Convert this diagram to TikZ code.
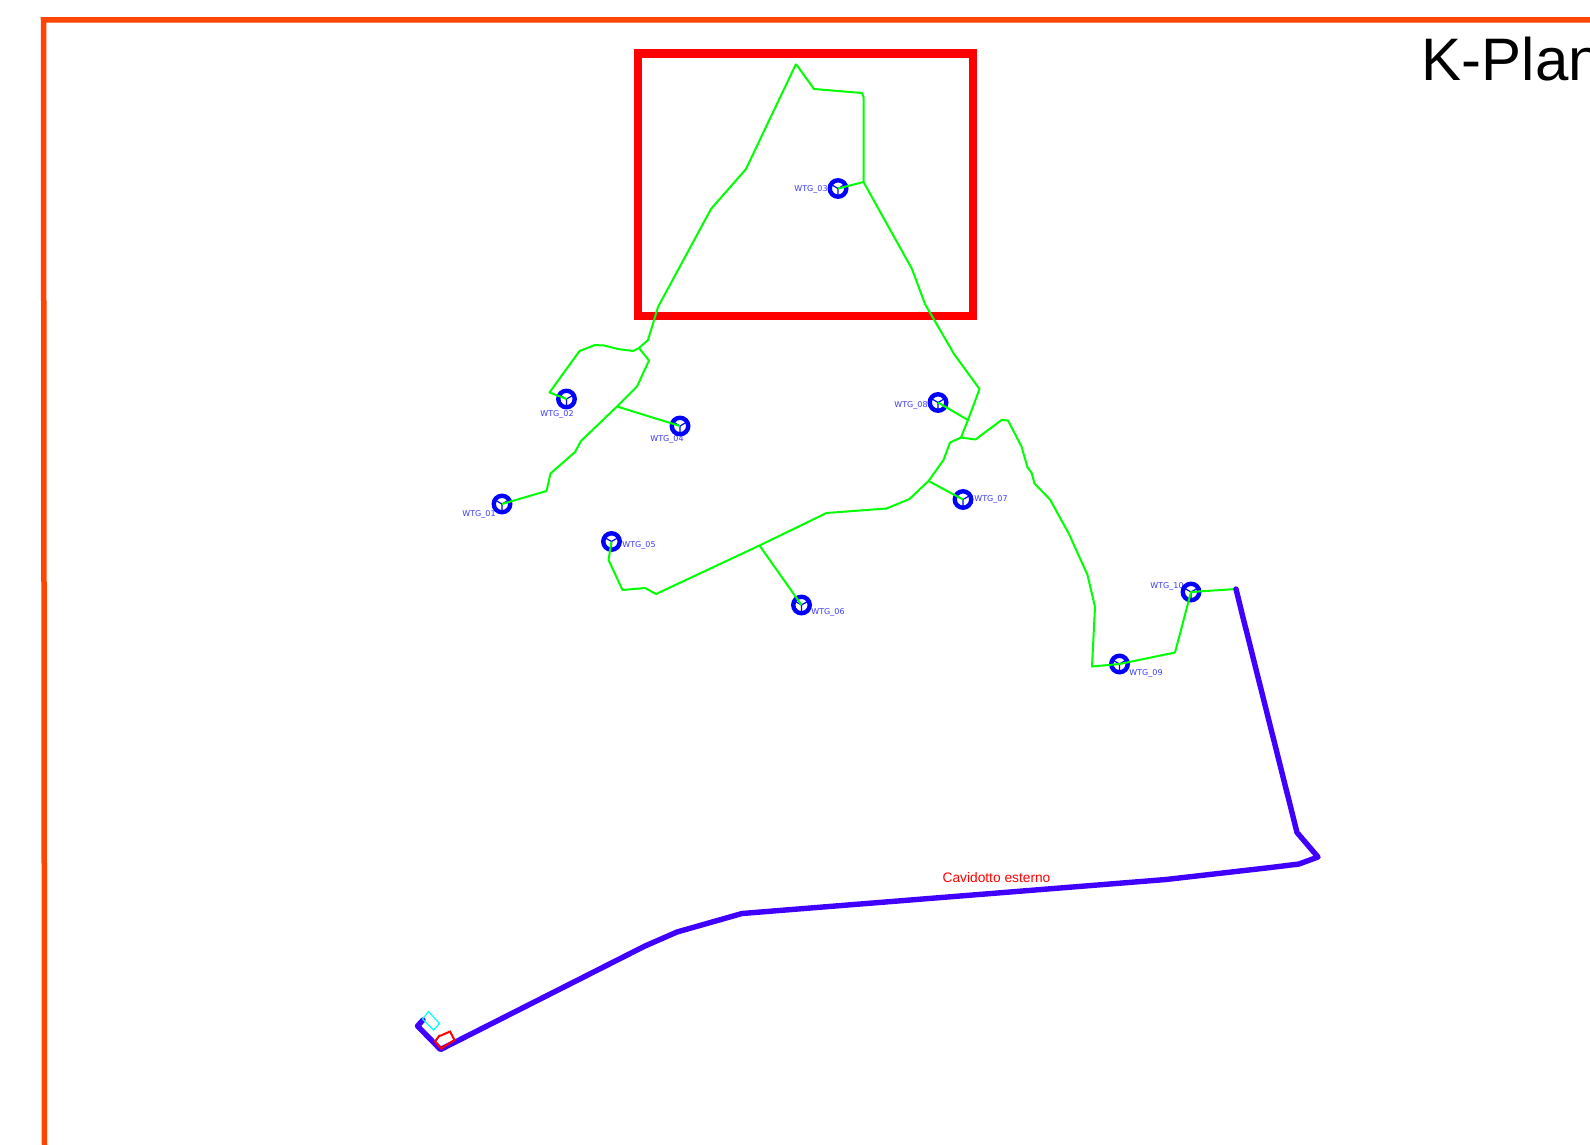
\documentclass[tikz,border=0pt]{standalone}
\usepackage{fontspec}
\setmainfont{Liberation Sans}
\newfontfamily\wtgfont{DejaVu Sans}
\definecolor{framecol}{HTML}{FF4500}
\definecolor{ductcol}{HTML}{3F00FF}
\definecolor{labelcol}{HTML}{3A3AFF}
\definecolor{plotcol}{HTML}{00FFFF}
\tikzset{
  wtg/.style={circle,draw=blue,line width=4.4pt,minimum size=16.5pt,inner sep=0pt,
    path picture={\draw[blue,line width=1.2pt] (path picture bounding box.center) -- ++(150:8pt)
      (path picture bounding box.center) -- ++(30:8pt)
      (path picture bounding box.center) -- ++(-90:8pt);}},
  wtglabel/.style={text=labelcol,font=\wtgfont\fontsize{8}{8}\selectfont,inner sep=0pt},
  cable/.style={draw=green,line width=2pt,line join=round},
  duct/.style={draw=ductcol,line width=5.4pt,line join=round,line cap=round}
}
\begin{document}
\begin{tikzpicture}[x=1pt,y=-1pt]
\path[use as bounding box,clip] (0,0) rectangle (1590,1145);

\draw [framecol,line width=5.5pt] (44.5,1145) -- (43.5,20) -- (1590,20);
\draw [red,line width=8.5pt] (638,53.7) -- (973,53.7) -- (973,316) -- (638,316) -- cycle;
\node [anchor=base west,inner sep=0pt,font=\fontsize{60}{60}\selectfont] (title) at (1421.5,81) {K-Plan};

\node [wtglabel] (lab01) at (479,514) {WTG\_01}; \node [wtg] (wtg01) at (502,504) {};
\node [wtglabel] (lab02) at (557,414) {WTG\_02}; \node [wtg] (wtg02) at (566.5,399) {};
\node [wtglabel] (lab03) at (811,189.5) {WTG\_03}; \node [wtg] (wtg03) at (838,188.5) {};
\node [wtglabel] (lab04) at (667,439.5) {WTG\_04}; \node [wtg] (wtg04) at (680,426) {};
\node [wtglabel] (lab05) at (639,545) {WTG\_05}; \node [wtg] (wtg05) at (611.5,541.5) {};
\node [wtglabel] (lab06) at (828,612) {WTG\_06}; \node [wtg] (wtg06) at (801.5,605) {};
\node [wtglabel] (lab07) at (991,499) {WTG\_07}; \node [wtg] (wtg07) at (963,499.5) {};
\node [wtglabel] (lab08) at (911,405) {WTG\_08}; \node [wtg] (wtg08) at (938,402.5) {};
\node [wtglabel] (lab09) at (1146,673) {WTG\_09}; \node [wtg] (wtg09) at (1119.5,664) {};
\node [wtglabel] (lab10) at (1167,586.5) {WTG\_10}; \node [wtg] (wtg10) at (1191,592) {};

\coordinate (top) at (796,64);
\coordinate (jwest) at (639,348);
\coordinate (j04) at (617,406.5);
\coordinate (j03) at (863.5,182);
\coordinate (j08) at (968,420);
\coordinate (jeast) at (961,437.5);
\coordinate (j07) at (928.5,481);
\coordinate (j06) at (759.5,545.5);
\coordinate (ductstart) at (1236,589);

\draw [cable] (top) -- (746,169) -- (711,209) -- (658,307) -- (648,340) -- (jwest);
\draw [cable] (jwest) -- (633,351) -- (618,349) -- (604,345.5) -- (595,345) -- (579.5,351) -- (549.5,392.5) -- (wtg02.center);
\draw [cable] (jwest) -- (649,360.5) -- (637,386.5) -- (j04) -- (581,441) -- (575,452) -- (550.5,473.5) -- (546.5,491) -- (wtg01.center);
\draw [cable] (j04) -- (wtg04.center);
\draw [cable] (top) -- (814,89) -- (862,93) -- (863.5,97) -- (j03) -- (912,269) -- (925,304) -- (954,354) -- (979.5,389) -- (j08) -- (jeast);
\draw [cable] (j03) -- (wtg03.center);
\draw [cable] (j08) -- (wtg08.center);
\draw [cable] (jeast) -- (975.5,439.5) -- (1001.5,420) -- (1008,420.5) -- (1021.5,446.5) -- (1027.5,467.5) -- (1031.5,472.5) -- (1034.5,483.5) -- (1050,499.5) -- (1069,534) -- (1087.5,575) -- (1095,607) -- (1092,666.5) -- (wtg09.center) -- (1175,652.5) -- (wtg10.center) -- (ductstart);
\draw [cable] (jeast) -- (950,442.5) -- (943.5,460) -- (j07) -- (909.5,499) -- (886.5,508.5) -- (826.5,513) -- (j06) -- (656,594) -- (645,588) -- (622.5,590) -- (608.5,560) -- (wtg05.center);
\draw [cable] (j07) -- (wtg07.center);
\draw [cable] (j06) -- (wtg06.center);

\draw [duct] (ductstart) -- (1242,613.5) -- (1297,832.5) -- (1318,857) -- (1299,864) -- (1270.5,867.5) -- (1166,879.5) -- (841.5,905.5) -- (742,913.5) -- (677,932) -- (645,946) -- (440.5,1049.5) -- (417.5,1026) -- (423,1020);
\draw [plotcol,line width=1.2pt] (428.5,1011.5) -- (439.5,1023.5) -- (433.5,1030) -- (422.5,1019) -- cycle;
\draw [red,line width=2pt] (435,1041.5) -- (439.5,1035.5) -- (441,1035.5) -- (450,1031.5) -- (454.5,1040) -- (441,1048.5) -- cycle;

\node [text=red,font=\fontsize{13.75}{14}\selectfont,inner sep=0pt] (cavidotto) at (996.5,878) {Cavidotto esterno};
\end{tikzpicture}
\end{document}
